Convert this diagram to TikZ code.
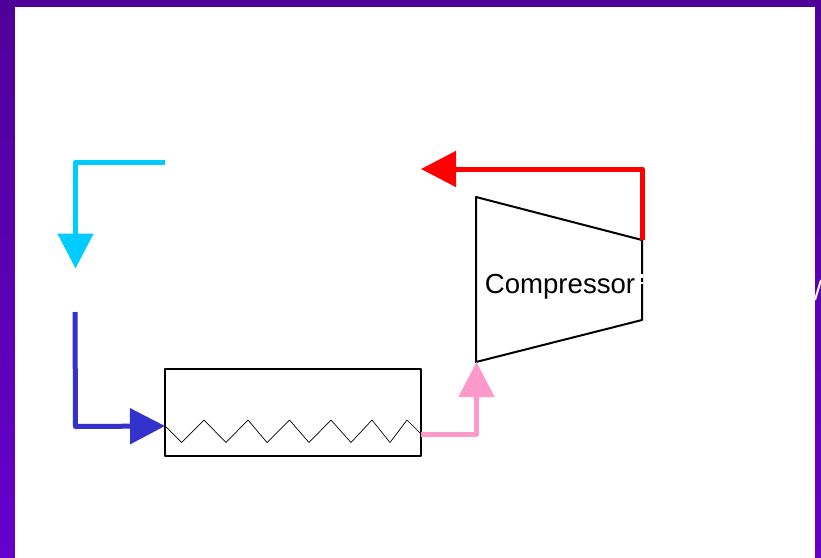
\documentclass[tikz,border=0pt]{standalone}
\usepackage{fontspec}
\setmainfont{Liberation Sans}
\usetikzlibrary{arrows.meta}
\definecolor{framecoltop}{RGB}{80,0,153}
\definecolor{framecolbot}{RGB}{102,0,204}
\definecolor{coldcol}{RGB}{0,204,255}
\definecolor{feedcol}{RGB}{51,51,204}
\definecolor{suctcol}{RGB}{255,153,204}
\definecolor{hotcol}{RGB}{255,0,0}
\begin{document}
\begin{tikzpicture}[x=1pt,y=-1pt,line join=round,
    pipe/.style={line width=5pt,-{Triangle[length=35pt,width=35pt]}},
    part/.style={draw=black,line width=2pt,inner sep=0pt,outer sep=0pt}]
  \useasboundingbox (0,0) rectangle (821,557);
  \shade[top color=framecoltop,bottom color=framecolbot] (0,0) rectangle (821,560);
  \fill[white] (15,7) rectangle (815,560);
  \draw[white,line width=2pt] (815,300)--(821,280);
  % heat exchanger box and its coil
  \node[part,anchor=north west,minimum width=256pt,minimum height=86.5pt] (exch) at (165,369) {};
  \coordinate (coilin) at (165,426);
  \coordinate (coilout) at (421,434);
  \draw[black,line width=0.7pt] (coilin)--(181.7,442.5)--(204,420)--(226,442.5)--(248,420)--(267,442.5)
     --(289.5,420)--(309,442.5)--(331,420)--(351,442.5)--(372,420)--(390,442.5)--(407,420)--(coilout);
  % compressor
  \coordinate (cA) at (476,197);
  \coordinate (cB) at (642,240);
  \coordinate (cC) at (642,320);
  \coordinate (cD) at (476,362);
  \draw[black,line width=2pt] (cA)--(cB)--(cC)--(cD)--cycle;
  \draw[white,line width=2.4pt] (642,274)--(642,277.5) (642,281.5)--(642,283.5);
  \node[font=\fontsize{27.6}{32}\selectfont,inner sep=0pt] (comp) at (560,286.5) {Compressor};
  % pipes
  \coordinate (hotend) at (421,169);
  \coordinate (coldstart) at (165,162);
  \coordinate (coldend) at (75.5,268.5);
  \coordinate (feedstart) at (75,312);
  \draw[pipe,hotcol] (cB)--(642,169)--(hotend);
  \draw[pipe,coldcol] (coldstart)--(75.5,162)--(coldend);
  \draw[pipe,feedcol] (feedstart)--(75.5,426.5)--(coilin);
  \draw[pipe,suctcol] (coilout)--(476.5,434)--(cD -| 476.5,0);
\end{tikzpicture}
\end{document}
